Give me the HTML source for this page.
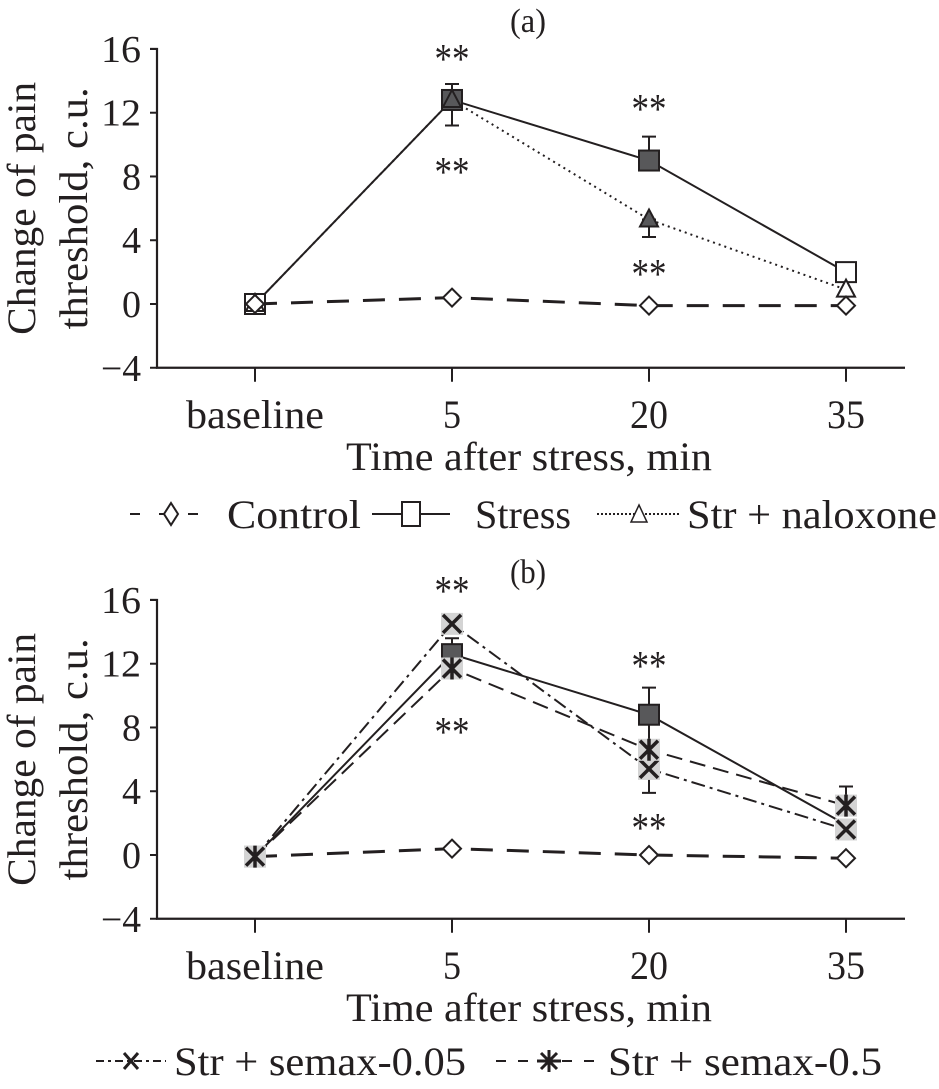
<!DOCTYPE html>
<html><head><meta charset="utf-8"><style>
html,body{margin:0;padding:0;background:#fff}
svg{display:block}
text{font-family:"Liberation Serif",serif;fill:#231f20}
</style></head><body>
<svg id="chart" width="939" height="1089" viewBox="0 0 939 1089" xmlns="http://www.w3.org/2000/svg">
<g id="gA"></g>
<g id="gB"></g>
<g id="leg"></g>
</svg>
<script>
const categories = ["baseline","5","20","35"];
const yTicks = [-4,0,4,8,12,16];
// panel a
const aControl = [0,0.4,-0.1,-0.1];
const aStress = [0,12.8,9.0,2.0];
const aNalox = [0,12.8,5.3,0.9];
const aStressErrLo = [0,11.2,9.0,2.0];
const aStressErrHi = [0,13.8,10.5,2.0];
const aNaloxErrLo = [0,12.8,4.2,0.9];
// panel b
const bControl = [-0.1,0.4,0,-0.2];
const bStress = [-0.1,12.6,8.8,1.9];
const bSemax005 = [-0.1,14.5,5.4,1.6];
const bSemax05 = [-0.1,11.7,6.6,3.1];
const bErrHi = [0,13.6,10.5,4.3];
const bErrLo = [0,12.6,3.9,3.1];

const NS="http://www.w3.org/2000/svg";
function mk(parent,tag,attrs,txt){const e=document.createElementNS(NS,tag);for(const k in attrs)e.setAttribute(k,attrs[k]);if(txt!==undefined)e.textContent=txt;parent.appendChild(e);return e;}
function T(g,x,y,str,size,anchor,len){
  const a={x:x,y:y,'font-size':size,'text-anchor':anchor||'start'};
  if(len){a.textLength=len;a.lengthAdjust='spacingAndGlyphs';}
  return mk(g,'text',a,str);
}
const xPos=i=>255+i*197;
const C="#231f20";
const tickLen={"baseline":138,"5":18,"20":38,"35":38};

function axes(g,y0,label){
  const yS=v=>y0-v*15.94;
  const yAx=yS(-4);
  const ax=mk(g,'path',{d:`M150 ${yS(16)} H157 V${yAx} H905`,fill:'none',stroke:C,'stroke-width':2.2});
  
  
  yTicks.forEach(t=>{
    const ln=mk(g,'line',{x1:150,x2:157,y1:yS(t),y2:yS(t),stroke:C,'stroke-width':2});
    
    
    const s=t<0?'\u2212'+(-t):String(t);
    const tx=T(g,141,yS(t)+13,s,38,'end',s.length>1?40:19);
    
    
  });
  categories.forEach((c,i)=>{
    const ln=mk(g,'line',{x1:xPos(i),x2:xPos(i),y1:yAx,y2:yAx+14,stroke:C,'stroke-width':2});
    
    
    const tx=T(g,xPos(i),yAx+60,c,40,'middle',tickLen[c]);
    
    
  });
  const xt=T(g,529,yAx+102,'Time after stress, min',40,'middle',366);
  
  
  const cy=(yS(16)+yAx)/2;
  const yt=mk(g,'g',{transform:`translate(0 ${cy}) rotate(-90)`});
  
  
  T(yt,0,35,'Change of pain',40,'middle',253);
  T(yt,0,87,'threshold, c.u.',40,'middle',242);
  const pt=T(g,528,yS(16)-17,label,34,'middle',36);
  
  
  return yS;
}
function line(g,yS,vals,dash,name,w){
  const p=mk(g,'polyline',{points:vals.map((v,i)=>xPos(i)+','+yS(v)).join(' '),fill:'none',stroke:C,'stroke-width':w||2,'stroke-dasharray':dash||'none'});
  
  
}
function err(g,yS,i,lo,hi){
  const p=mk(g,'path',{d:`M${xPos(i)} ${yS(lo)} V${yS(hi)} M${xPos(i)-7} ${yS(hi)} h14 M${xPos(i)-7} ${yS(lo)} h14`,stroke:C,'stroke-width':2,fill:'none'});
  
  
}
function marker(g,type,x,y,fill,name){
  let e;
  if(type==='diamond') e=mk(g,'path',{d:`M${x} ${y-9} L${x+9} ${y} L${x} ${y+9} L${x-9} ${y}Z`,fill:fill||'#fff',stroke:C,'stroke-width':2});
  else if(type==='square') e=mk(g,'rect',{x:x-10,y:y-10,width:20,height:20,fill:fill||'#fff',stroke:C,'stroke-width':2});
  else if(type==='triangle') e=mk(g,'path',{d:`M${x} ${y-10} L${x+9} ${y+7} L${x-9} ${y+7}Z`,fill:fill||'#fff',stroke:C,'stroke-width':2});
  else if(type==='x'){mk(g,'rect',{x:x-11,y:y-11,width:22,height:22,fill:'#d4d4d4'});e=mk(g,'path',{d:`M${x-9} ${y-9}L${x+9} ${y+9}M${x+9} ${y-9}L${x-9} ${y+9}`,stroke:C,'stroke-width':3.5});}
  else if(type==='star'){mk(g,'rect',{x:x-11,y:y-11,width:22,height:22,fill:'#d4d4d4'});e=mk(g,'path',{d:`M${x-9} ${y-9}L${x+9} ${y+9}M${x+9} ${y-9}L${x-9} ${y+9}M${x} ${y-11}V${y+11}`,stroke:C,'stroke-width':3.5});}
  
  
}
function stars(g,x,y){const t=T(g,x,y,'**',42,'middle',35);
  
  }

// Panel A
const gA=document.getElementById('gA');
const yA=axes(gA,304,'(a)');
line(gA,yA,aNalox,'2 4','naloxone-line',2);
line(gA,yA,aStress,null,'stress-line',2);
line(gA,yA,aControl,'22 14','control-line',3);
err(gA,yA,1,aStressErrLo[1],aStressErrHi[1]);
err(gA,yA,2,aStress[2],aStressErrHi[2]);
err(gA,yA,2,aNaloxErrLo[2],aNalox[2]);
aStress.forEach((v,i)=>marker(gA,'square',xPos(i),yA(v),(i===1||i===2)?'#58585a':'#fff','stress-point'));
aNalox.forEach((v,i)=>marker(gA,'triangle',xPos(i),yA(v),(i===1||i===2)?'#58585a':'#fff','naloxone-point'));
aControl.forEach((v,i)=>marker(gA,'diamond',xPos(i),yA(v),'#fff','control-point'));
stars(gA,452,73);stars(gA,452,186);stars(gA,649,123);stars(gA,649,288);

// Panel B
const gB=document.getElementById('gB');
const yB=axes(gB,855,'(b)');
line(gB,yB,bSemax005,'14 5 3 5','semax-005-line',2);
line(gB,yB,bSemax05,'16 8','semax-05-line',2);
line(gB,yB,bStress,null,'stress-line',2);
line(gB,yB,bControl,'22 14','control-line',3);
err(gB,yB,1,bStress[1],bErrHi[1]);
err(gB,yB,2,bErrLo[2],bErrHi[2]);
err(gB,yB,3,bSemax05[3],bErrHi[3]);
bControl.forEach((v,i)=>marker(gB,'diamond',xPos(i),yB(v),'#fff','control-point'));
bStress.forEach((v,i)=>{if(i===1||i===2)marker(gB,'square',xPos(i),yB(v),'#58585a','stress-point');});
bSemax005.forEach((v,i)=>marker(gB,'x',xPos(i),yB(v),null,'semax-005-point'));
bSemax05.forEach((v,i)=>marker(gB,'star',xPos(i),yB(v),null,'semax-05-point'));
stars(gB,452,605);stars(gB,452,746);stars(gB,649,680);stars(gB,649,842);

// Legends
const L=document.getElementById('leg');
function legEntry(x1,x2,cy,type,dash,textX,textLen,label,name){
  const g=mk(L,'g',{});
  
  
  mk(g,'line',{x1:x1,x2:x2,y1:cy,y2:cy,stroke:C,'stroke-width':2,'stroke-dasharray':dash||'none'});
  const cx=(x1+x2)/2;
  if(type==='diamond') mk(g,'path',{d:`M${cx} ${cy-11}L${cx+7} ${cy}L${cx} ${cy+11}L${cx-7} ${cy}Z`,fill:'#fff',stroke:C,'stroke-width':2});
  if(type==='square') mk(g,'rect',{x:cx-9,y:cy-12,width:18,height:24,fill:'#fff',stroke:C,'stroke-width':2});
  if(type==='triangle') mk(g,'path',{d:`M${cx} ${cy-9}L${cx+8} ${cy+8}L${cx-8} ${cy+8}Z`,fill:'#fff',stroke:C,'stroke-width':1.5});
  if(type==='x') mk(g,'path',{d:`M${cx-7} ${cy-8}L${cx+7} ${cy+8}M${cx+7} ${cy-8}L${cx-7} ${cy+8}`,stroke:C,'stroke-width':3});
  if(type==='star') mk(g,'path',{d:`M${cx-8} ${cy-8}L${cx+8} ${cy+8}M${cx+8} ${cy-8}L${cx-8} ${cy+8}M${cx} ${cy-11}V${cy+11}M${cx-12} ${cy}H${cx+12}`,stroke:C,'stroke-width':3});
  T(g,textX,cy+14,label,40,'start',textLen);
}
legEntry(130,212,514,'diamond','10 19','227',134,'Control','legend-control');
legEntry(372,450,514,'square',null,475,96,'Stress','legend-stress');
legEntry(597,681,514,'triangle','2 2',687,250,'Str + naloxone','legend-naloxone');
legEntry(96,166,1061,'x','8 4 3 4',174,292,'Str + semax-0.05','legend-semax-005');
legEntry(496,602,1061,'star','10 12',608,274,'Str + semax-0.5','legend-semax-05');
</script>
</body></html>
